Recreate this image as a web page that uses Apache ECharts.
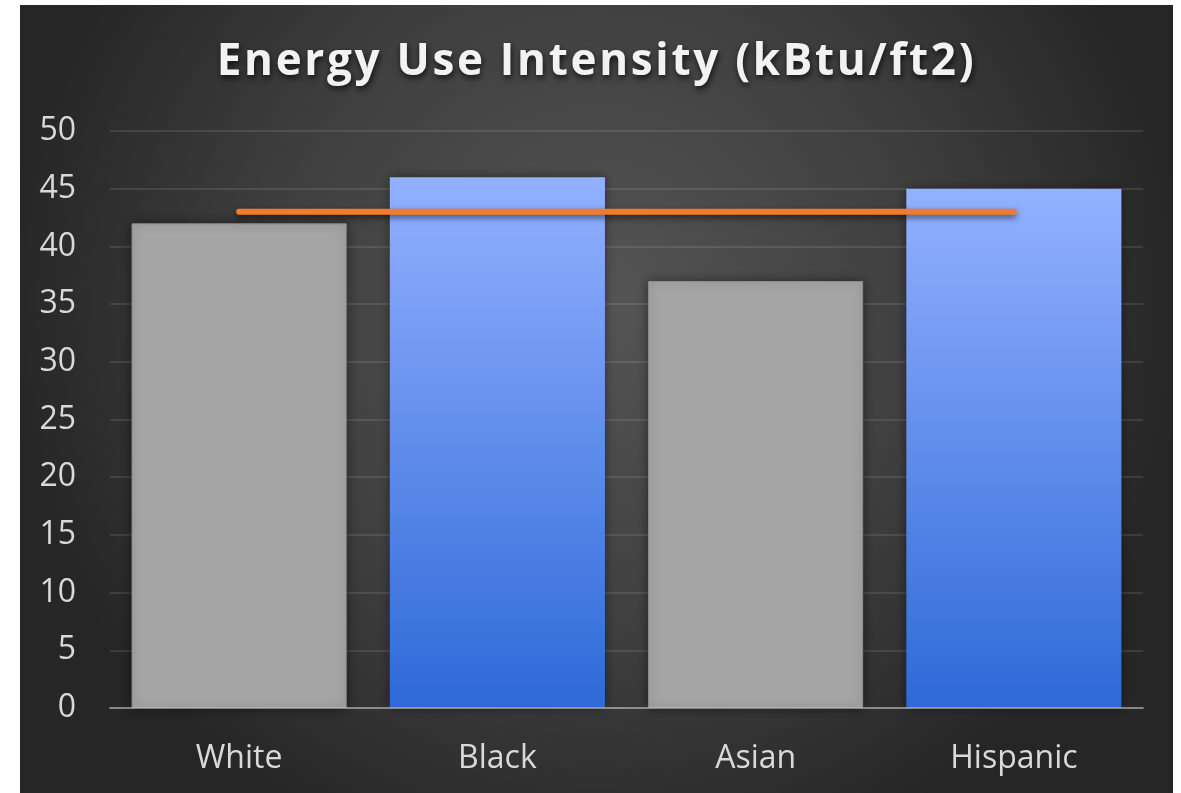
<!DOCTYPE html>
<html>
<head>
<meta charset="utf-8">
<script src="https://cdn.jsdelivr.net/npm/echarts@6/dist/echarts.min.js"></script>
<style>
  html, body { margin: 0; padding: 0; background: #ffffff; width: 1181px; height: 793px; overflow: hidden; }
  #chart { position: absolute; left: 20px; top: 5px; width: 1153px; height: 788px; }
</style>
</head>
<body>
<div id="chart"></div>
<script>
// Energy use intensity by group, with the overall average drawn as a line
const groups = ['White', 'Black', 'Asian', 'Hispanic'];
const euiValues = [42, 46, 37, 45];
const averageValues = [43, 43, 43, 43];
const highlighted = ['Black', 'Hispanic'];
const yTicks = { min: 0, max: 50, step: 5 };

// The title is set with a little tracking; canvas text supports letterSpacing,
// so apply it whenever the title font is active (both for measuring and drawing).
const TITLE_FONT_RE = /(bold|700) 44px/;
const TITLE_TRACKING = '2.7px';
(function () {
  const proto = CanvasRenderingContext2D.prototype;
  if (!('letterSpacing' in proto)) return;
  const wrap = (name) => {
    const orig = proto[name];
    proto[name] = function () {
      this.letterSpacing = TITLE_FONT_RE.test(this.font) ? TITLE_TRACKING : '0px';
      return orig.apply(this, arguments);
    };
  };
  wrap('fillText');
  wrap('strokeText');
  wrap('measureText');
})();

const grayFill = '#a5a5a5';
const blueFill = new echarts.graphic.LinearGradient(0, 0, 0, 1, [
  { offset: 0, color: '#93b1ff' },
  { offset: 1, color: '#2e69d8' }
]);

const barData = euiValues.map((v, i) => {
  const hi = highlighted.includes(groups[i]);
  return {
    value: v,
    itemStyle: hi
      ? { color: blueFill, borderWidth: 0 }
      : { color: grayFill, borderColor: '#8e8e8e', borderWidth: 1 }
  };
});

const labelFont = '"Open Sans", "Noto Sans", sans-serif';

const chart = echarts.init(document.getElementById('chart'), null, { renderer: 'canvas' });
chart.setOption({
  animation: false,
  backgroundColor: new echarts.graphic.RadialGradient(0.5, 0.38, 0.75, [
    { offset: 0, color: '#555555' },
    { offset: 0.55, color: '#3f3f3f' },
    { offset: 1, color: '#262626' }
  ]),
  title: {
    text: 'Energy Use Intensity (kBtu/ft2)',
    left: 'center',
    top: 29,
    textStyle: {
      fontFamily: labelFont,
      fontWeight: 'bold',
      fontSize: 44,
      color: '#f2f2f2',
      textShadowColor: 'rgba(0,0,0,0.75)',
      textShadowBlur: 6,
      textShadowOffsetX: 1,
      textShadowOffsetY: 3
    }
  },
  grid: { left: 90, right: 30, top: 126, bottom: 85, containLabel: false },
  xAxis: {
    type: 'category',
    data: groups,
    z: 5,
    axisTick: { show: false },
    axisLine: { lineStyle: { color: 'rgba(210,210,210,0.5)', width: 2 } },
    axisLabel: {
      color: '#d9d9d9',
      fontFamily: labelFont,
      fontSize: 32,
      margin: 35
    }
  },
  yAxis: {
    type: 'value',
    min: yTicks.min,
    max: yTicks.max,
    interval: yTicks.step,
    axisLine: { show: false },
    axisTick: { show: false },
    splitLine: { lineStyle: { color: 'rgba(255,255,255,0.1)', width: 2 } },
    axisLabel: {
      color: '#d9d9d9',
      fontFamily: labelFont,
      fontSize: 32,
      margin: 34
    }
  },
  series: [
    {
      name: 'EUI',
      type: 'bar',
      data: barData,
      barCategoryGap: '16.7%',
      itemStyle: {
        shadowColor: 'rgba(0,0,0,0.45)',
        shadowBlur: 10,
        shadowOffsetX: 0,
        shadowOffsetY: 0
      },
      z: 2
    },
    {
      name: 'Average',
      type: 'line',
      data: averageValues,
      symbol: 'none',
      z: 4,
      lineStyle: {
        color: '#ed7d31',
        width: 6,
        cap: 'round',
        shadowColor: 'rgba(0,0,0,0.55)',
        shadowBlur: 6,
        shadowOffsetY: 3
      }
    }
  ]
});
</script>
</body>
</html>
